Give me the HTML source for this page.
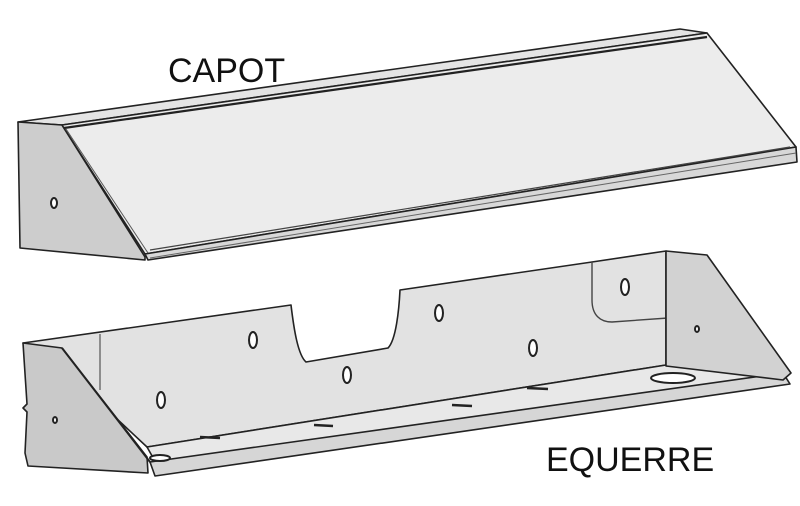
<!DOCTYPE html>
<html><head><meta charset="utf-8"><style>
html,body{margin:0;padding:0;background:#fff;width:800px;height:506px;overflow:hidden}
svg{display:block}
text{font-family:"Liberation Sans",sans-serif;font-size:34px;fill:#111}
</style></head><body>
<svg width="800" height="506" viewBox="0 0 800 506" stroke="#222" stroke-width="1.6" stroke-linejoin="round">
<text x="168" y="82" stroke="none">CAPOT</text>
<text x="546" y="471" stroke="none">EQUERRE</text>
<!-- CAPOT -->
<polygon points="18,122 62,125 707,33 680,29" fill="#e4e4e4"/>
<polygon points="18,122 62,125 145,257 145,260 20,248" fill="#cdcdcd"/>
<polygon points="62,125 707,33 796,147 145,254" fill="#ececec"/>
<polygon points="145,254 796,147 797,162 148,260" fill="#d8d8d8"/>
<line x1="66" y1="129" x2="148" y2="253" stroke="#555" stroke-width="1"/>
<line x1="64" y1="128" x2="707" y2="37" stroke-width="2.2"/>
<line x1="150" y1="250" x2="790" y2="147" stroke="#444" stroke-width="1.2"/>
<line x1="150" y1="258" x2="796" y2="153" stroke="#666" stroke-width="1"/>
<ellipse cx="54" cy="203" rx="3" ry="5" fill="#fff" stroke-width="2"/>
<!-- EQUERRE back wall -->
<path d="M23,343 L291,305 C294,330 298,355 306,362 L388,348 C396,340 399,310 400,290 L592,262 L666,251 L666,365 L147,447 L70,375 Z" fill="#e2e2e2"/>
<line x1="100" y1="334" x2="100" y2="390" stroke="#555" stroke-width="1.2"/>
<path d="M592,262 L592,300 C592,315 600,322 612,322 L668,318" fill="none" stroke="#444" stroke-width="1.4"/>
<!-- floor -->
<polygon points="147,447 666,365 783,373 160,470" fill="#e8e8e8"/>
<polygon points="150,462 783,373 790,384 155,476" fill="#d6d6d6"/>
<!-- right end face -->
<polygon points="666,251 707,255 791,373 783,380 666,366" fill="#d2d2d2"/>
<!-- left end face -->
<polygon points="23,343 62,348 147,457 148,473 28,466 25,453 27,412 23,408 27,404" fill="#c9c9c9"/>
<line x1="62" y1="348" x2="150" y2="462" stroke-width="2"/>
<!-- holes -->
<g fill="#fff" stroke-width="2">
<ellipse cx="161" cy="400" rx="4" ry="8"/>
<ellipse cx="253" cy="340" rx="4" ry="8"/>
<ellipse cx="347" cy="375" rx="4" ry="8"/>
<ellipse cx="439" cy="313" rx="4" ry="8"/>
<ellipse cx="533" cy="348" rx="4" ry="8"/>
<ellipse cx="625" cy="287" rx="4" ry="8"/>
<ellipse cx="673" cy="378" rx="22" ry="5"/>
<ellipse cx="160" cy="458" rx="10" ry="3"/>
<ellipse cx="55" cy="420" rx="2" ry="3"/>
<ellipse cx="697" cy="329" rx="2" ry="3"/>
</g>
<g stroke-width="2.5">
<line x1="200" y1="437" x2="220" y2="438"/>
<line x1="314" y1="425" x2="333" y2="426"/>
<line x1="452" y1="405" x2="472" y2="406"/>
<line x1="527" y1="388" x2="548" y2="389"/>
</g>
</svg>
</body></html>
